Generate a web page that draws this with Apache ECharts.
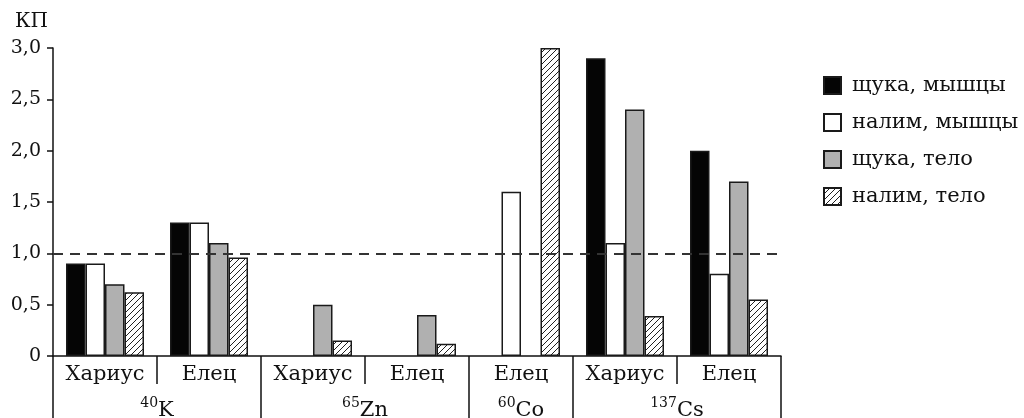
<!DOCTYPE html>
<html>
<head>
<meta charset="utf-8">
<script src="https://cdn.jsdelivr.net/npm/echarts@6/dist/echarts.min.js"></script>
<style>
  html, body { margin: 0; padding: 0; background: #fff; }
  #chart { width: 1024px; height: 418px; }
</style>
</head>
<body>
<div id="chart"></div>
<script>
// Fish species under each isotope
const categories = ['Хариус', 'Елец', 'Хариус', 'Елец', 'Елец', 'Хариус', 'Елец'];

// Isotope groups: mass number, symbol, number of fish columns
const groupMass = ['40', '65', '60', '137'];
const groupSymbol = ['K', 'Zn', 'Co', 'Cs'];
const groupSpan = [2, 2, 1, 2];

// Accumulation coefficients (КП)
const seriesNames = ['щука, мышцы', 'налим, мышцы', 'щука, тело', 'налим, тело'];
const pikeMuscle   = [0.9, 1.3, null, null, null, 2.9, 2.0];
const burbotMuscle = [0.9, 1.3, null, null, 1.6, 1.1, 0.8];
const pikeBody     = [0.7, 1.1, 0.5, 0.4, null, 2.4, 1.7];
const burbotBody   = [0.62, 0.96, 0.15, 0.12, 3.0, 0.39, 0.55];

// Reference level
const refLevel = 1.0;

const yTicks = { min: 0, max: 3, step: 0.5 };

const FONT = 'DejaVu Serif';
const INK = '#111';

// Diagonal hatching fill
function hatchPattern() {
  const s = 6;
  const c = document.createElement('canvas');
  c.width = s; c.height = s;
  const g = c.getContext('2d');
  g.fillStyle = '#fff';
  g.fillRect(0, 0, s, s);
  g.strokeStyle = '#222';
  g.lineWidth = 1;
  g.beginPath();
  g.moveTo(0, s); g.lineTo(s, 0);
  g.moveTo(-1, 1); g.lineTo(1, -1);
  g.moveTo(s - 1, s + 1); g.lineTo(s + 1, s - 1);
  g.stroke();
  return { image: c, repeat: 'repeat' };
}

// Half-step axis for the isotope row: one point per half column
const halfCount = categories.length * 2 + 1;
const halfLabels = new Array(halfCount).fill('');
const groupEdges = new Set([0]);
let pos = 0;
groupSpan.forEach((span, i) => {
  halfLabels[pos + span] = '{s|' + groupMass[i] + '}{m|' + groupSymbol[i] + '}';
  pos += span * 2;
  groupEdges.add(pos);
});

const border = { borderColor: '#1a1a1a', borderWidth: 1.5 };
const fills = ['#050505', '#ffffff', '#b0b0b0', hatchPattern()];
const values = [pikeMuscle, burbotMuscle, pikeBody, burbotBody];

const series = values.map((data, i) => ({
  name: seriesNames[i],
  type: 'bar',
  data: data,
  barGap: 0,
  barCategoryGap: '25%',
  itemStyle: Object.assign({ color: fills[i] }, border),
  emphasis: { disabled: true },
  animation: false
}));

series[0].markLine = {
  silent: true,
  symbol: ['none', 'none'],
  label: { show: false },
  lineStyle: { color: '#333', width: 2, type: [10, 7] },
  data: [{ yAxis: refLevel }]
};

const chart = echarts.init(document.getElementById('chart'), null, { renderer: 'canvas' });
chart.setOption({
  backgroundColor: '#fff',
  animation: false,
  grid: { left: 53, right: 243, top: 48, bottom: 62, containLabel: false, outerBoundsMode: 'none' },
  legend: {
    orient: 'vertical',
    left: 818,
    top: 70,
    itemWidth: 17,
    itemHeight: 17,
    itemGap: 16,
    icon: 'rect',
    selectedMode: false,
    textStyle: { fontFamily: FONT, fontSize: 21, color: INK, padding: [0, 0, 0, 6] },
    data: seriesNames
  },
  xAxis: [
    {
      type: 'category',
      data: categories,
      boundaryGap: true,
      axisLine: { show: true, lineStyle: { color: '#111', width: 1.5 } },
      axisTick: { show: true, length: 28, interval: 0, lineStyle: { color: '#111', width: 1.5 } },
      axisLabel: { interval: 0, margin: 8, fontFamily: FONT, fontSize: 21, color: INK }
    },
    {
      type: 'category',
      data: halfLabels,
      boundaryGap: false,
      position: 'bottom',
      offset: 28,
      axisLine: { show: false },
      axisTick: {
        show: true, length: 36,
        interval: (i) => groupEdges.has(i),
        lineStyle: { color: '#111', width: 1.5 }
      },
      axisLabel: {
        interval: 0,
        margin: 12,
        rich: {
          s: { fontFamily: FONT, fontSize: 14, color: INK, verticalAlign: 'top', lineHeight: 25 },
          m: { fontFamily: FONT, fontSize: 21, color: INK, verticalAlign: 'bottom', lineHeight: 25 }
        }
      }
    }
  ],
  yAxis: {
    type: 'value',
    min: yTicks.min,
    max: yTicks.max,
    interval: yTicks.step,
    name: 'КП',
    nameLocation: 'end',
    nameGap: 16,
    nameTextStyle: { fontFamily: FONT, fontSize: 20, color: INK, align: 'right', padding: [0, 5, 0, 0] },
    splitLine: { show: false },
    axisLine: { show: true, lineStyle: { color: '#111', width: 1.5 } },
    axisTick: { show: true, length: 6, lineStyle: { color: '#111', width: 1.5 } },
    axisLabel: {
      margin: 12,
      fontFamily: FONT, fontSize: 19, color: INK,
      formatter: (v) => v === 0 ? '0' : v.toFixed(1).replace('.', ',')
    }
  },
  series: series
});
</script>
</body>
</html>
